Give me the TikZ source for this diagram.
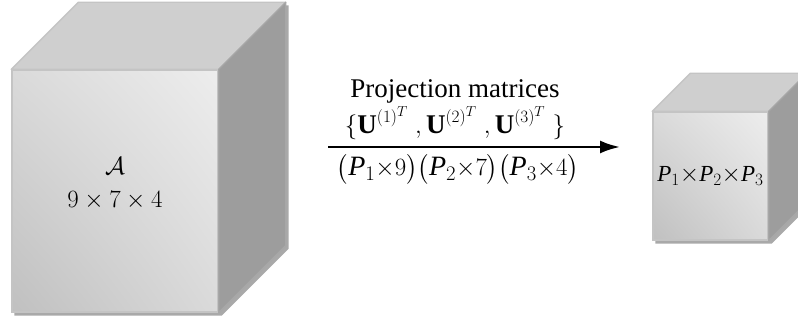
\documentclass[tikz,border=0pt]{standalone}
\usepackage{amsmath}
\usepackage{fontspec}
\setmainfont{Liberation Serif}
\usetikzlibrary{arrows.meta,positioning,backgrounds,shadings}
\definecolor{FaceHi}{HTML}{EDEDED}
\definecolor{FaceMid}{HTML}{DADADA}
\definecolor{FaceLo}{HTML}{C0C0C0}
\definecolor{TopGray}{HTML}{CFCFCF}
\definecolor{SideGray}{HTML}{9D9D9D}
\definecolor{EdgeGray}{HTML}{C4C4C4}
\definecolor{ShadowGray}{HTML}{A9A9A9}
\newcommand{\Pvar}[1]{\text{\itshape P}_{#1}}

\begin{document}
\begin{tikzpicture}[x=1pt, y=1pt,
  face/.style={draw=EdgeGray, line width=1.4pt, shade, lower left=FaceLo,
               upper right=FaceHi, upper left=FaceMid, lower right=FaceMid,
               inner sep=0pt, align=center},
  topface/.style={draw=EdgeGray, line width=1.4pt, fill=TopGray, line join=round},
  sideface/.style={draw=EdgeGray!85!black, line width=1.4pt, fill=SideGray, line join=round},
  shadow/.style={fill=ShadowGray},
  lbl/.style={font=\fontsize{27}{30}\selectfont, inner sep=0pt},
  projarrow/.style={line width=2.6pt, -{Latex[length=20pt, width=13pt]}}
]
  \useasboundingbox (0,0) rectangle (798,320);
  \clip (0,0) rectangle (798,320);

  % tensor A
  \node[face, minimum width=206pt, minimum height=242pt] (bigA) at (115,129) {};
  \draw[topface] (bigA.north west) -- ++(67,67) -- ([shift={(67,67)}]bigA.north east)
    -- (bigA.north east) -- cycle;
  \draw[sideface] (bigA.north east) -- ++(67,67) -- ([shift={(67,67)}]bigA.south east)
    -- (bigA.south east) -- cycle;
  \node[font=\fontsize{25}{33}\selectfont, align=center, yshift=7.5pt] (bigtxt)
    at (bigA.center) {$\mathcal{A}$\\$9\times7\times4$};

  % projected tensor
  \node[face, minimum width=115pt, minimum height=128pt,
        font=\fontsize{23}{26}\selectfont] (smallP) at (710.5,144)
    {$\Pvar{1}{\times}\Pvar{2}{\times}\Pvar{3}$};
  \draw[topface] (smallP.north west) -- ++(38,38) -- ([shift={(38,38)}]smallP.north east)
    -- (smallP.north east) -- cycle;
  \draw[sideface] (smallP.north east) -- ++(38,38) -- ([shift={(38,38)}]smallP.south east)
    -- (smallP.south east) -- cycle;

  % shadows
  \begin{scope}[on background layer]
    \fill[shadow] ([shift={(3,-3)}]bigA.south west) -- ([shift={(3,-3)}]bigA.north west)
      -- ([shift={(70,64)}]bigA.north west) -- ([shift={(70,64)}]bigA.north east)
      -- ([shift={(70,64)}]bigA.south east) -- ([shift={(3,-3)}]bigA.south east) -- cycle;
    \fill[shadow] ([shift={(3,-3)}]smallP.south west) -- ([shift={(3,-3)}]smallP.north west)
      -- ([shift={(41,35)}]smallP.north west) -- ([shift={(41,35)}]smallP.north east)
      -- ([shift={(41,35)}]smallP.south east) -- ([shift={(3,-3)}]smallP.south east) -- cycle;
  \end{scope}

  % projection
  \coordinate (projL) at (328,173);
  \coordinate (projR) at (620,173);
  \draw[projarrow] (projL) -- (projR);
  \node[lbl] (projU) at (455,197)
    {$\{\textbf{U}^{(1)^T}\;,\textbf{U}^{(2)^T}\;,\textbf{U}^{(3)^T}\;\}$};
  \node[lbl, above=3pt of projU] (projmat) {Projection matrices};
  \node[lbl, font=\fontsize{28}{30}\selectfont] (projdim) at (458,151)
    {$\bigl(\Pvar{1}{\times}9\bigr)\bigl(\Pvar{2}{\times}7\bigr)\bigl(\Pvar{3}{\times}4\bigr)$};
\end{tikzpicture}
\end{document}
